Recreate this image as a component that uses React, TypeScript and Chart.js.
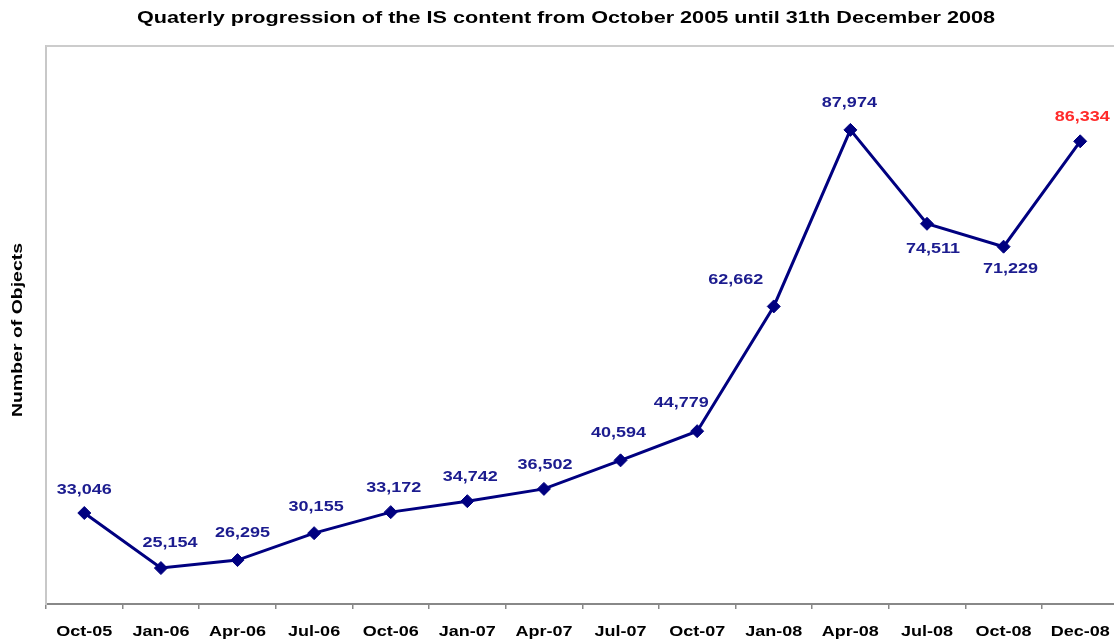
import React, { useEffect, useRef } from 'react';
import { Chart, registerables } from 'chart.js';

Chart.register(...registerables);

const categories = ['Oct-05', 'Jan-06', 'Apr-06', 'Jul-06', 'Oct-06', 'Jan-07', 'Apr-07', 'Jul-07', 'Oct-07', 'Jan-08', 'Apr-08', 'Jul-08', 'Oct-08', 'Dec-08'];
const objectCounts = [33046, 25154, 26295, 30155, 33172, 34742, 36502, 40594, 44779, 62662, 87974, 74511, 71229, 86334];
const yMin = 20000;
const yMax = 100000;
const titleText = 'Quaterly progression of the IS content from October 2005 until 31th December 2008';
const yTitleText = 'Number of Objects';

// label placement relative to each point (dx, dy)
const labelOffsets: [number, number][] = [
  [0, -23], [9, -25], [5, -27], [2, -26], [3, -24], [3, -24], [1, -24],
  [-2, -27], [-16, -28], [-38, -27], [-1, -27], [6, 25], [7, 22], [2, -24],
];

const LABEL_BLUE = '#1c1c8f';
const LABEL_RED = '#ff2a2a';
const LINE_NAVY = '#000080';
const FONT = '"Liberation Sans", Arial, sans-serif';

function drawText(ctx: CanvasRenderingContext2D, text: string, x: number, y: number, font: string, color: string, targetWidth: number | null, sx: number, rot = 0) {
  ctx.save();
  ctx.font = font;
  const w = ctx.measureText(text).width;
  const scale = targetWidth ? targetWidth / w : sx;
  ctx.translate(x, y);
  if (rot) ctx.rotate(rot);
  ctx.scale(scale, 1);
  ctx.fillStyle = color;
  ctx.textAlign = 'center';
  ctx.textBaseline = 'middle';
  ctx.fillText(text, 0, 0);
  ctx.restore();
}

const decorPlugin = {
  id: 'decor',
  afterDatasetsDraw(chart: any) {
    const ctx = chart.ctx as CanvasRenderingContext2D;
    const meta = chart.getDatasetMeta(0);
    meta.data.forEach((pt: any, i: number) => {
      const [dx, dy] = labelOffsets[i];
      const txt = objectCounts[i].toLocaleString('en-US');
      const color = i === objectCounts.length - 1 ? LABEL_RED : LABEL_BLUE;
      drawText(ctx, txt, pt.x + dx, pt.y + dy, `bold 15px ${FONT}`, color, null, 1.2);
    });
  },
  afterDraw(chart: any) {
    const ctx = chart.ctx as CanvasRenderingContext2D;
    const area = chart.chartArea;
    ctx.save();
    ctx.strokeStyle = '#cccccc';
    ctx.lineWidth = 2;
    ctx.beginPath();
    ctx.moveTo(area.left, area.top);
    ctx.lineTo(area.right + 10, area.top);
    ctx.stroke();
    ctx.restore();
    drawText(ctx, titleText, 566, 18, `bold 17px ${FONT}`, '#000000', 858, 1);
    drawText(ctx, yTitleText, 18, 330, `bold 15px ${FONT}`, '#000000', 174, 1, -Math.PI / 2);
    const xs = chart.scales.x;
    categories.forEach((c, i) => {
      drawText(ctx, c, xs.getPixelForValue(i), 632, `bold 15px ${FONT}`, '#000000', null, 1.2);
    });
  },
};

export default function App() {
  const ref = useRef<HTMLCanvasElement | null>(null);
  useEffect(() => {
    if (!ref.current) return;
    const chart = new Chart(ref.current, {
      type: 'line',
      data: {
        labels: categories,
        datasets: [{
          data: objectCounts,
          borderColor: LINE_NAVY,
          backgroundColor: LINE_NAVY,
          borderWidth: 3,
          tension: 0,
          pointStyle: 'rectRot',
          pointRadius: 6.5,
          pointHoverRadius: 6.5,
          pointBackgroundColor: LINE_NAVY,
          pointBorderColor: LINE_NAVY,
          pointBorderWidth: 1,
          clip: false as any,
        }],
      },
      options: {
        animation: false,
        responsive: false,
        maintainAspectRatio: false,
        layout: { padding: { top: 46, right: 2, left: 0, bottom: 0 } },
        plugins: { legend: { display: false }, title: { display: false }, tooltip: { enabled: false } },
        scales: {
          x: {
            type: 'category',
            offset: true,
            grid: { display: true, offset: true, drawOnChartArea: false, drawTicks: true, tickLength: 5, color: '#888888', lineWidth: 1.5 },
            border: { display: true, color: '#888888', width: 2 },
            ticks: { display: false },
            afterFit: (s: any) => { s.height = 39; },
          },
          y: {
            min: yMin,
            max: yMax,
            grid: { display: false },
            border: { display: true, color: '#c8c8c8', width: 2 },
            ticks: { display: false },
            afterFit: (s: any) => { s.width = 46; },
          },
        },
      },
      plugins: [decorPlugin],
    });
    return () => chart.destroy();
  }, []);
  return (
    <div style={{ position: 'fixed', left: 0, top: 0, width: 1114, height: 643, overflow: 'hidden', background: '#fff' }}>
      <canvas ref={ref} width={1126} height={643} style={{ display: 'block', width: 1126, height: 643 }} />
    </div>
  );
}
